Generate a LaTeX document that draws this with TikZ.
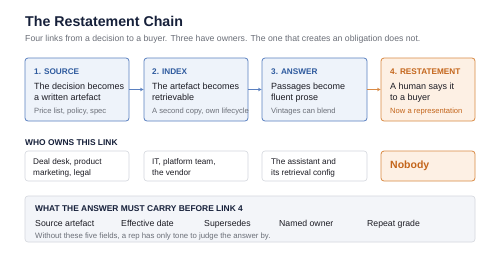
\documentclass[tikz,border=0pt]{standalone}
\usepackage{fontspec}
\setmainfont{Liberation Sans}
\usetikzlibrary{arrows.meta,positioning}
\definecolor{ink}{HTML}{1C1C24}
\definecolor{navy}{HTML}{16203A}
\definecolor{muted}{HTML}{6B6F78}
\definecolor{linkblue}{HTML}{5A80C0}
\definecolor{linkfill}{HTML}{EEF3FA}
\definecolor{headblue}{HTML}{2E5A9E}
\definecolor{restline}{HTML}{D98A45}
\definecolor{restfill}{HTML}{FDF0E4}
\definecolor{resttext}{HTML}{C4661C}
\definecolor{ownline}{HTML}{D4D7DD}
\definecolor{carryfill}{HTML}{F3F5F9}
\newcommand{\fs}[2]{\fontsize{#1}{#2}\selectfont}
\begin{document}
\begin{tikzpicture}[x=1pt,y=-1pt,
  link/.style={draw=linkblue,fill=linkfill,rounded corners=3pt,line width=.8pt,minimum height=63pt},
  rest/.style={draw=restline,fill=restfill,rounded corners=3pt,line width=.8pt},
  owner/.style={draw=ownline,fill=white,rounded corners=3pt,line width=.6pt,minimum height=30pt},
  head/.style={anchor=base west,inner sep=0,font=\fs{8.2}{10}\bfseries,text=headblue},
  body/.style={anchor=north west,inner sep=0,align=left,font=\fs{9}{11.3},text=ink},
  note/.style={anchor=base west,inner sep=0,font=\fs{7.6}{9},text=muted},
  who/.style={anchor=north west,inner sep=0,align=left,font=\fs{8.2}{10.4},text=ink},
  label/.style={anchor=base west,inner sep=0,font=\fs{8.4}{10}\bfseries,text=navy},
  chain/.style={draw=linkblue,line width=.8pt,-{Stealth[length=3.5pt,width=3.5pt]}}]
\useasboundingbox[fill=white] (0,0) rectangle (500,263);
% title
\node[anchor=base west,inner sep=0,font=\fs{14.2}{17}\bfseries,text=navy] (title) at (25,26) {The Restatement Chain};
\node[anchor=base west,inner sep=0,font=\fs{8.7}{10},text=muted] (sub) at (25,41)
  {Four links from a decision to a buyer. Three have owners. The one that creates an obligation does not.};
% the four links
\node[link,minimum width=104pt] (l1) at (77,89.5) {};
\node[link,minimum width=104pt] (l2) at (196,89.5) {};
\node[link,minimum width=105pt] (l3) at (314.5,89.5) {};
\node[rest,minimum width=94pt,minimum height=63pt] (l4) at (428,89.5) {};
\draw[chain] (l1) -- (l2);
\draw[chain] (l2) -- (l3);
\draw[chain,draw=restline] (l3) -- (l4);
\node[head] (h1) at (34,74) {1. SOURCE};
\node[body] (t1) at (34,82.5) {The decision becomes\\a written artefact};
\node[note] (n1) at (34,113.5) {Price list, policy, spec};
\node[head] (h2) at (152,74) {2. INDEX};
\node[body] (t2) at (152,82.5) {The artefact becomes\\retrievable};
\node[note] (n2) at (152,113.5) {A second copy, own lifecycle};
\node[head] (h3) at (271,74) {3. ANSWER};
\node[body] (t3) at (271,82.5) {Passages become\\fluent prose};
\node[note] (n3) at (271,113.5) {Vintages can blend};
\node[head,text=resttext] (h4) at (390,74) {4. RESTATEMENT};
\node[body] (t4) at (390,82.5) {A human says it\\to a buyer};
\node[note,text=resttext] (n4) at (390,113.5) {Now a representation};
% owners
\node[label] (whohead) at (25,145.5) {WHO OWNS THIS LINK};
\node[owner,minimum width=104pt] (o1) at (77,166) {};
\node[owner,minimum width=104pt] (o2) at (196,166) {};
\node[owner,minimum width=105pt] (o3) at (314.5,166) {};
\node[rest,minimum width=94pt,minimum height=30pt] (o4) at (428,166) {};
\node[who] (w1) at (33,158.5) {Deal desk, product\\marketing, legal};
\node[who] (w2) at (152,158.5) {IT, platform team,\\the vendor};
\node[who] (w3) at (271,158.5) {The assistant and\\its retrieval config};
\node[anchor=base west,inner sep=0,font=\fs{10.5}{12}\bfseries,text=resttext] (w4) at (390,168) {Nobody};
% fields
\node[draw=ownline,fill=carryfill,rounded corners=3pt,line width=.6pt,minimum width=450pt,minimum height=46pt] (carry) at (250,219) {};
\node[label] (carryhead) at (35,211) {WHAT THE ANSWER MUST CARRY BEFORE LINK 4};
\foreach \x/\f [count=\i] in {35/Source artefact,121/Effective date,204/Supersedes,279/Named owner,367/Repeat grade}
  \node[anchor=base west,inner sep=0,font=\fs{8.7}{10},text=ink] (f\i) at (\x,226.5) {\f};
\node[note,font=\fs{7.8}{9}] (carrynote) at (35,238) {Without these five fields, a rep has only tone to judge the answer by.};
\end{tikzpicture}
\end{document}
